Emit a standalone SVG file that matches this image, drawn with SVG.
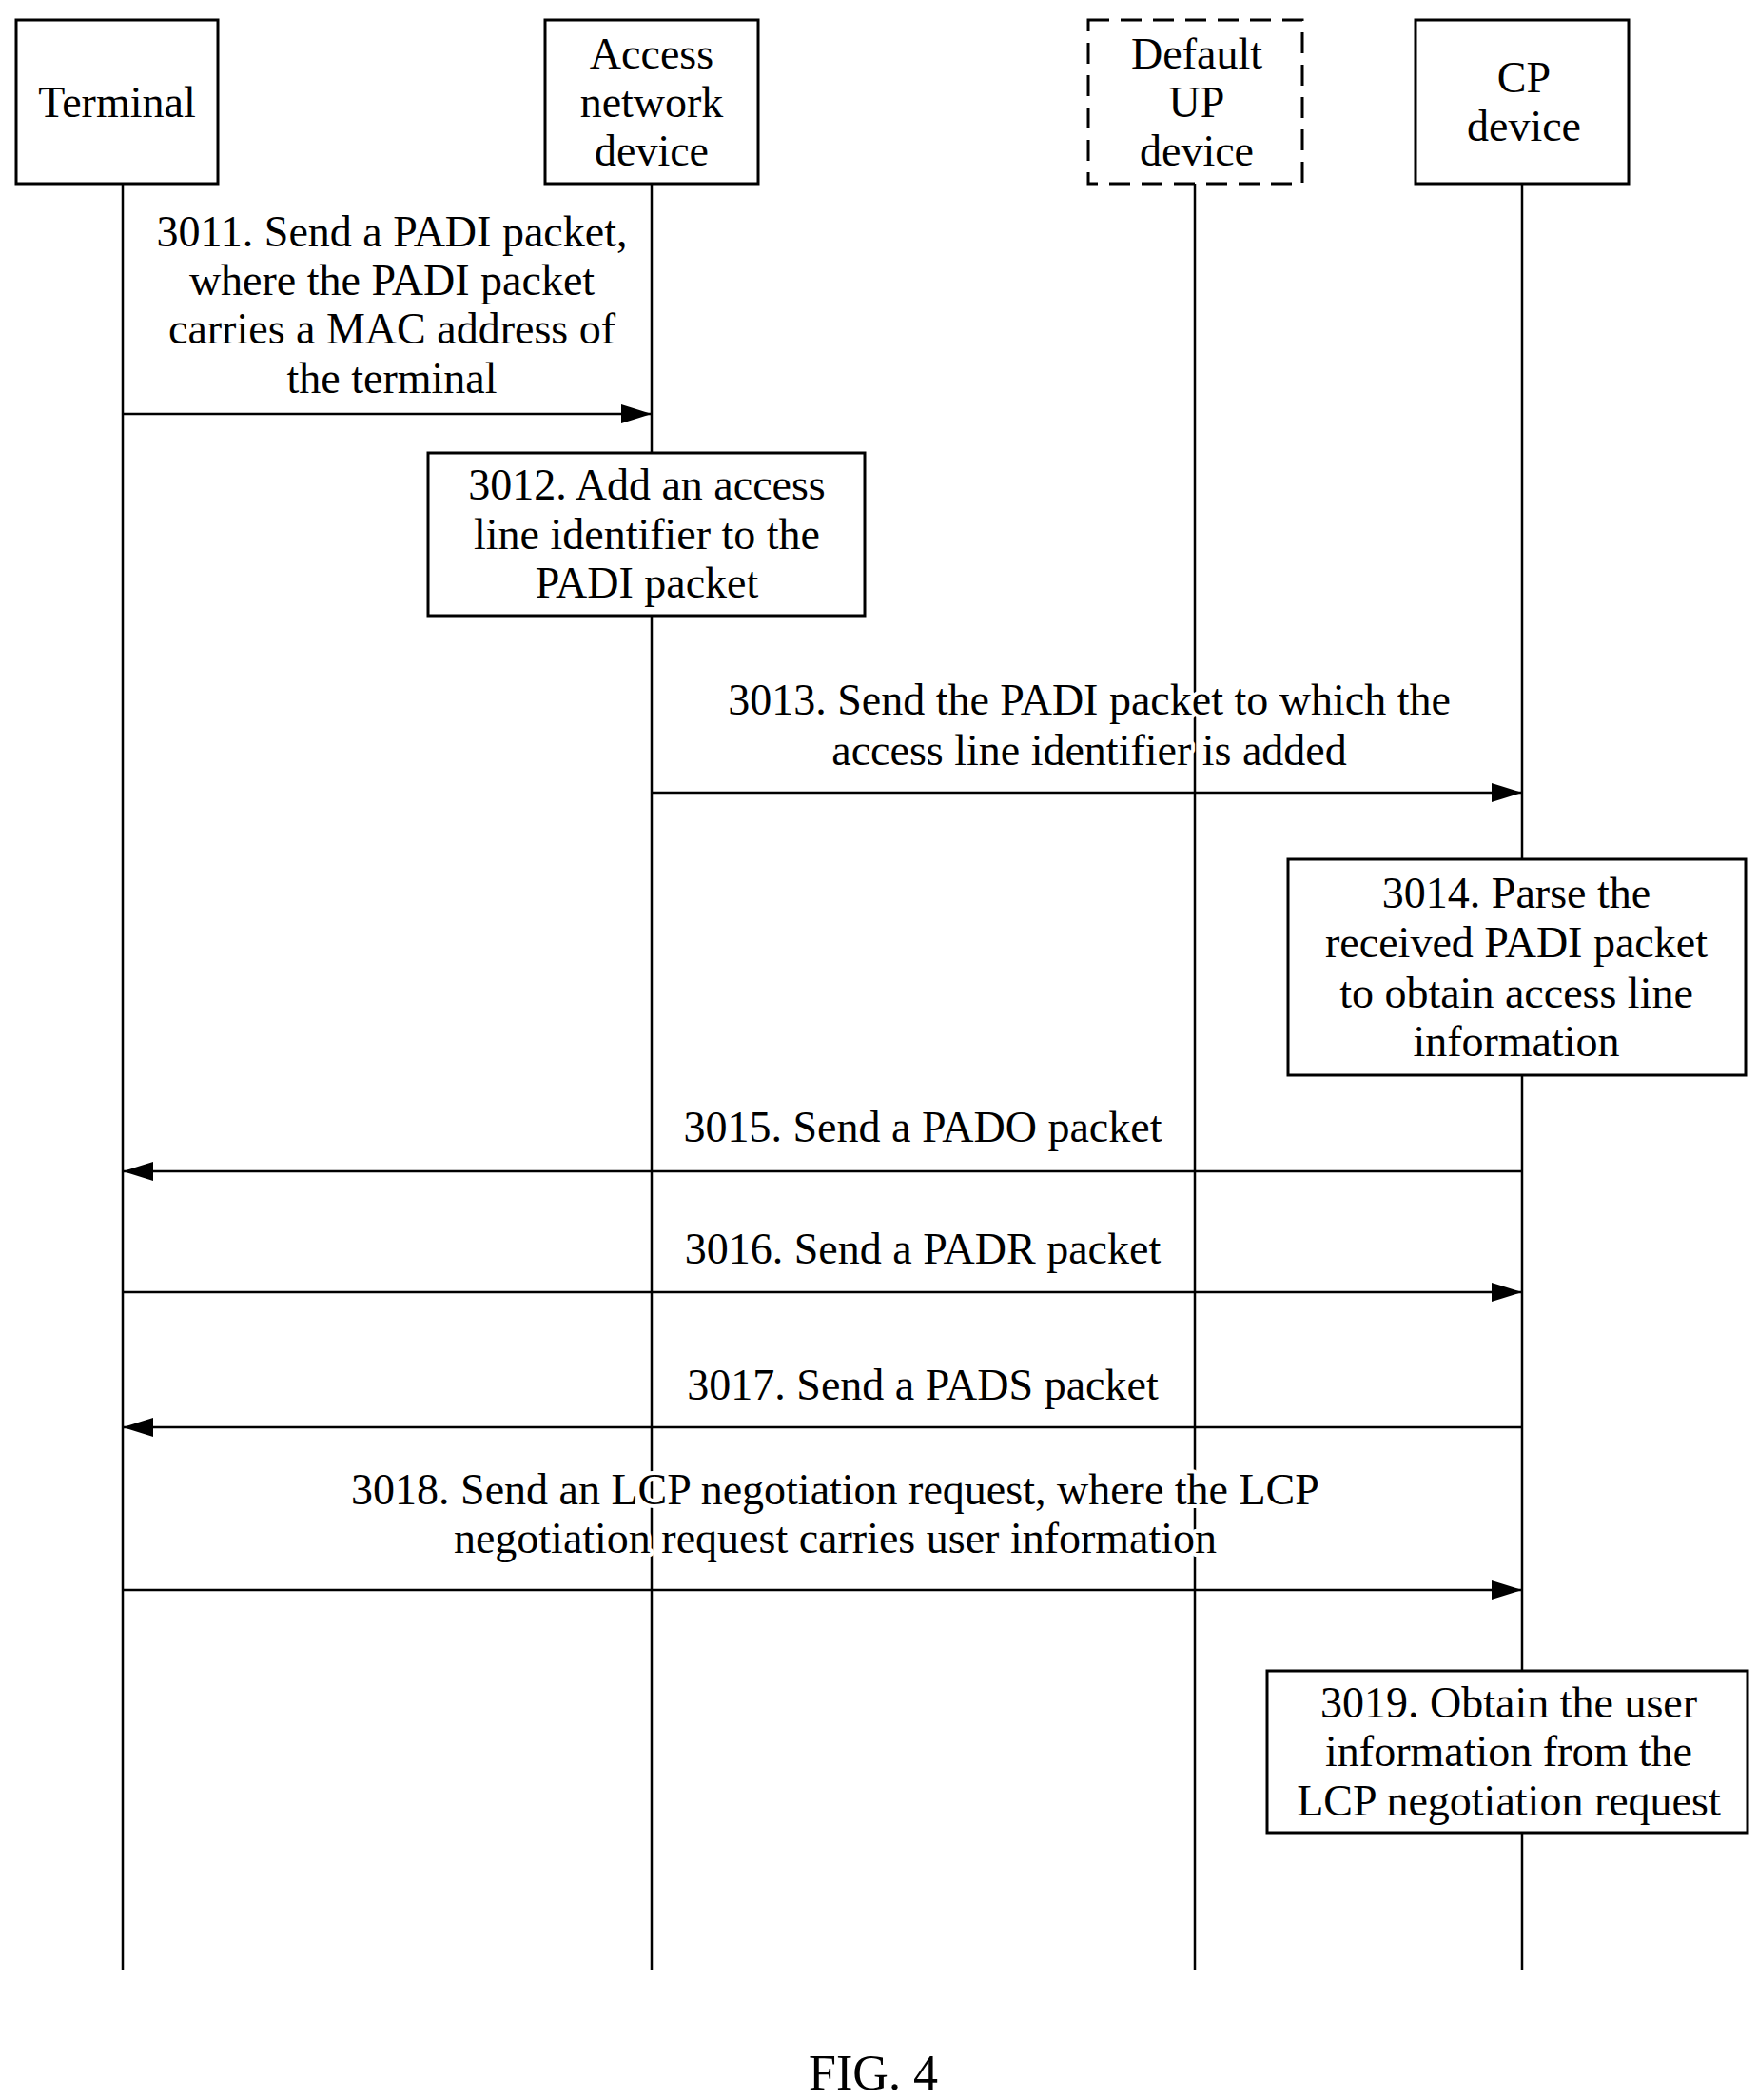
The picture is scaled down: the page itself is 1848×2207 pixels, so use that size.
<svg xmlns="http://www.w3.org/2000/svg" width="1848" height="2207" viewBox="0 0 1848 2207">
<style>
text{font-family:"Liberation Serif","Times New Roman",serif;font-size:46px;fill:#000;text-anchor:middle}
#labels text{stroke:#fff;stroke-width:8px;paint-order:stroke;stroke-linejoin:round}
.b{fill:#fff;stroke:#000;stroke-width:3}
.d{fill:#fff;stroke:#000;stroke-width:3;stroke-dasharray:22,12}
.l{stroke:#000;stroke-width:2.5;fill:none}
</style>
<defs>
<marker id="ah" viewBox="0 0 10 10" refX="10" refY="5" markerWidth="32" markerHeight="20" markerUnits="userSpaceOnUse" orient="auto" preserveAspectRatio="none"><path d="M0,0L10,5L0,10z" fill="#000"/></marker></defs>
<rect width="1848" height="2207" fill="#fff"/>
<g id="lifelines">
<line class="l" x1="129" y1="193" x2="129" y2="2070"/>
<line class="l" x1="685" y1="193" x2="685" y2="2070"/>
<line class="l" x1="1256" y1="193" x2="1256" y2="2070"/>
<line class="l" x1="1600" y1="193" x2="1600" y2="2070"/>
</g>
<g id="terminal"><rect class="b" x="17" y="21" width="212" height="172"/><text x="123" y="123">Terminal</text></g>
<g id="access"><rect class="b" x="573" y="21" width="224" height="172"/><text x="685" y="72">Access</text><text x="685" y="123">network</text><text x="685" y="174">device</text></g>
<g id="up"><rect class="d" x="1144" y="21" width="225" height="172"/><text x="1258" y="72">Default</text><text x="1258" y="123">UP</text><text x="1258" y="174">device</text></g>
<g id="cp"><rect class="b" x="1488" y="21" width="224" height="172"/><text x="1602" y="97">CP</text><text x="1602" y="148">device</text></g>
<g id="connectors">
<line class="l" x1="129" y1="435" x2="685" y2="435" marker-end="url(#ah)"/>
<line class="l" x1="685" y1="833" x2="1600" y2="833" marker-end="url(#ah)"/>
<line class="l" x1="1600" y1="1231" x2="129" y2="1231" marker-end="url(#ah)"/>
<line class="l" x1="129" y1="1358" x2="1600" y2="1358" marker-end="url(#ah)"/>
<line class="l" x1="1600" y1="1500" x2="129" y2="1500" marker-end="url(#ah)"/>
<line class="l" x1="129" y1="1671" x2="1600" y2="1671" marker-end="url(#ah)"/>
</g>
<g id="labels">
<text x="412" y="259">3011. Send a PADI packet,</text>
<text x="412" y="310">where the PADI packet</text>
<text x="412" y="361">carries a MAC address of</text>
<text x="412" y="413">the terminal</text>
<text x="1145" y="751">3013. Send the PADI packet to which the</text>
<text x="1145" y="804">access line identifier is added</text>
<text x="970" y="1200">3015. Send a PADO packet</text>
<text x="970" y="1328">3016. Send a PADR packet</text>
<text x="970" y="1471">3017. Send a PADS packet</text>
<text x="878" y="1581">3018. Send an LCP negotiation request, where the LCP</text>
<text x="878" y="1632">negotiation request carries user information</text>
</g>
<g id="s3012"><rect class="b" x="450" y="476" width="459" height="171"/><text x="680" y="525">3012. Add an access</text><text x="680" y="577">line identifier to the</text><text x="680" y="628">PADI packet</text></g>
<g id="s3014"><rect class="b" x="1354" y="903" width="481" height="227"/><text x="1594" y="954">3014. Parse the</text><text x="1594" y="1006">received PADI packet</text><text x="1594" y="1059">to obtain access line</text><text x="1594" y="1110">information</text></g>
<g id="s3019"><rect class="b" x="1332" y="1756" width="505" height="170"/><text x="1586" y="1805">3019. Obtain the user</text><text x="1586" y="1856">information from the</text><text x="1586" y="1908">LCP negotiation request</text></g>
<text x="918" y="2196" style="font-size:52px">FIG. 4</text>
</svg>
